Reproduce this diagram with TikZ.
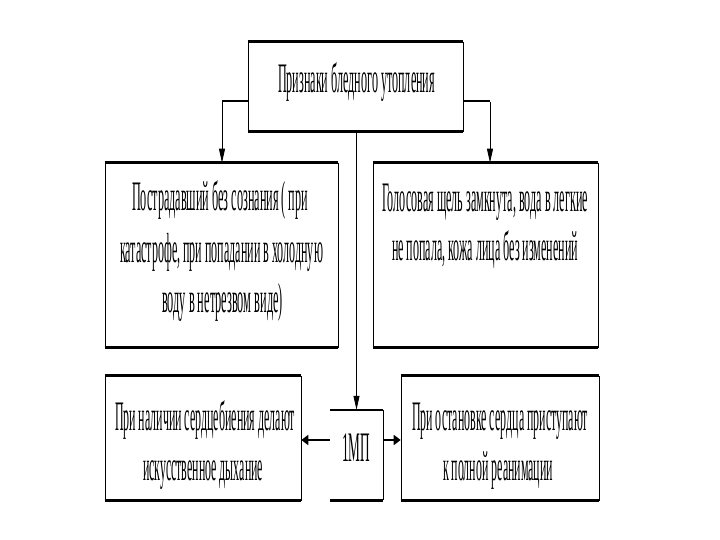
\documentclass[tikz,border=0pt]{standalone}
\usepackage{fontspec}
\setmainfont{Liberation Serif}
\usetikzlibrary{arrows.meta}
\newcommand\fitline[2]{\resizebox{#1pt}{\height}{#2}}
\tikzset{
  x=1pt,y=-1pt,
  pshape/.style={minimum width=#1,inner sep=0pt},
  pbox/.style={pshape=#1,draw=black,line width=0.6pt},
  txt/.style={anchor=base,inner sep=0pt,font=\fontsize{42}{50}\selectfont},
  hl/.style={line width=2.6pt},
  vl/.style={line width=0.8pt},
  tip/.style={-{Triangle[length=14pt,width=6pt]}},
  htip/.style={-{Triangle[length=7pt,width=10pt]}},
}
\begin{document}
\begin{tikzpicture}
\useasboundingbox (0,0) rectangle (720,540);
\fill[white] (0,0) rectangle (720,540);
% boxes
\node[pbox=215pt,minimum height=89pt] (top) at (355.5,86.5) {};
\node[pbox=233pt,minimum height=184pt] (lbox) at (221.5,255) {};
\node[pbox=225pt,minimum height=184pt] (rbox) at (485.5,255) {};
\node[pbox=196pt,minimum height=124pt] (blbox) at (203,438) {};
\node[pshape=53pt,minimum height=90pt] (mid) at (356.5,455) {};
\node[pbox=198pt,minimum height=124pt] (brbox) at (500,438) {};
\draw[line width=0.6pt] (mid.north east) -- (mid.south east);
\foreach \b in {top,lbox,rbox,blbox,mid,brbox}{
  \draw[hl] (\b.north west) -- (\b.north east);
  \draw[hl] (\b.south west) -- (\b.south east);
}
% texts
\node[txt] (t0) at (356.5,93) {\fitline{157}{Признаки бледного утопления}};
\node[txt] (l1) at (220,211) {\fitline{176}{Пострадавший без сознания ( при}};
\node[txt] (l2) at (221.5,262) {\fitline{203}{катастрофе, при попадании в холодную}};
\node[txt] (l3) at (222.5,312) {\fitline{121}{воду в нетрезвом виде)}};
\node[txt] (r1) at (485,212) {\fitline{206}{Голосовая щель замкнута, вода в легкие}};
\node[txt] (r2) at (485,260) {\fitline{186}{не попала, кожа лица без изменений}};
\node[txt] (b1) at (205,430) {\fitline{180}{При наличии сердцебиения делают}};
\node[txt] (b2) at (203,480) {\fitline{120}{искусственное дыхание}};
\node[txt] (m1) at (356,461) {\fitline{28}{1МП}};
\node[txt] (c1) at (500,430) {\fitline{176}{При остановке сердца приступают}};
\node[txt] (c2) at (498,480) {\fitline{110}{к полной реанимации}};
% connectors
\coordinate (lc) at (222,101);
\coordinate (rc) at (490,101);
\draw[hl] (top.west |- lc) -- ([xshift=-0.4pt]lc);
\draw[vl,tip] ([yshift=-1.3pt]lc) -- (lc |- lbox.north);
\draw[hl] (top.east |- rc) -- ([xshift=0.4pt]rc);
\draw[vl,tip] ([yshift=-1.3pt]rc) -- (rc |- rbox.north);
\draw[vl,tip] (top.south -| mid.north) -- (mid.north);
\coordinate (mc) at (356.5,440);
\draw[hl,htip] (mid.west |- mc) -- (blbox.east |- mc);
\draw[hl,htip] (mid.east |- mc) -- (brbox.west |- mc);
\end{tikzpicture}
\end{document}
